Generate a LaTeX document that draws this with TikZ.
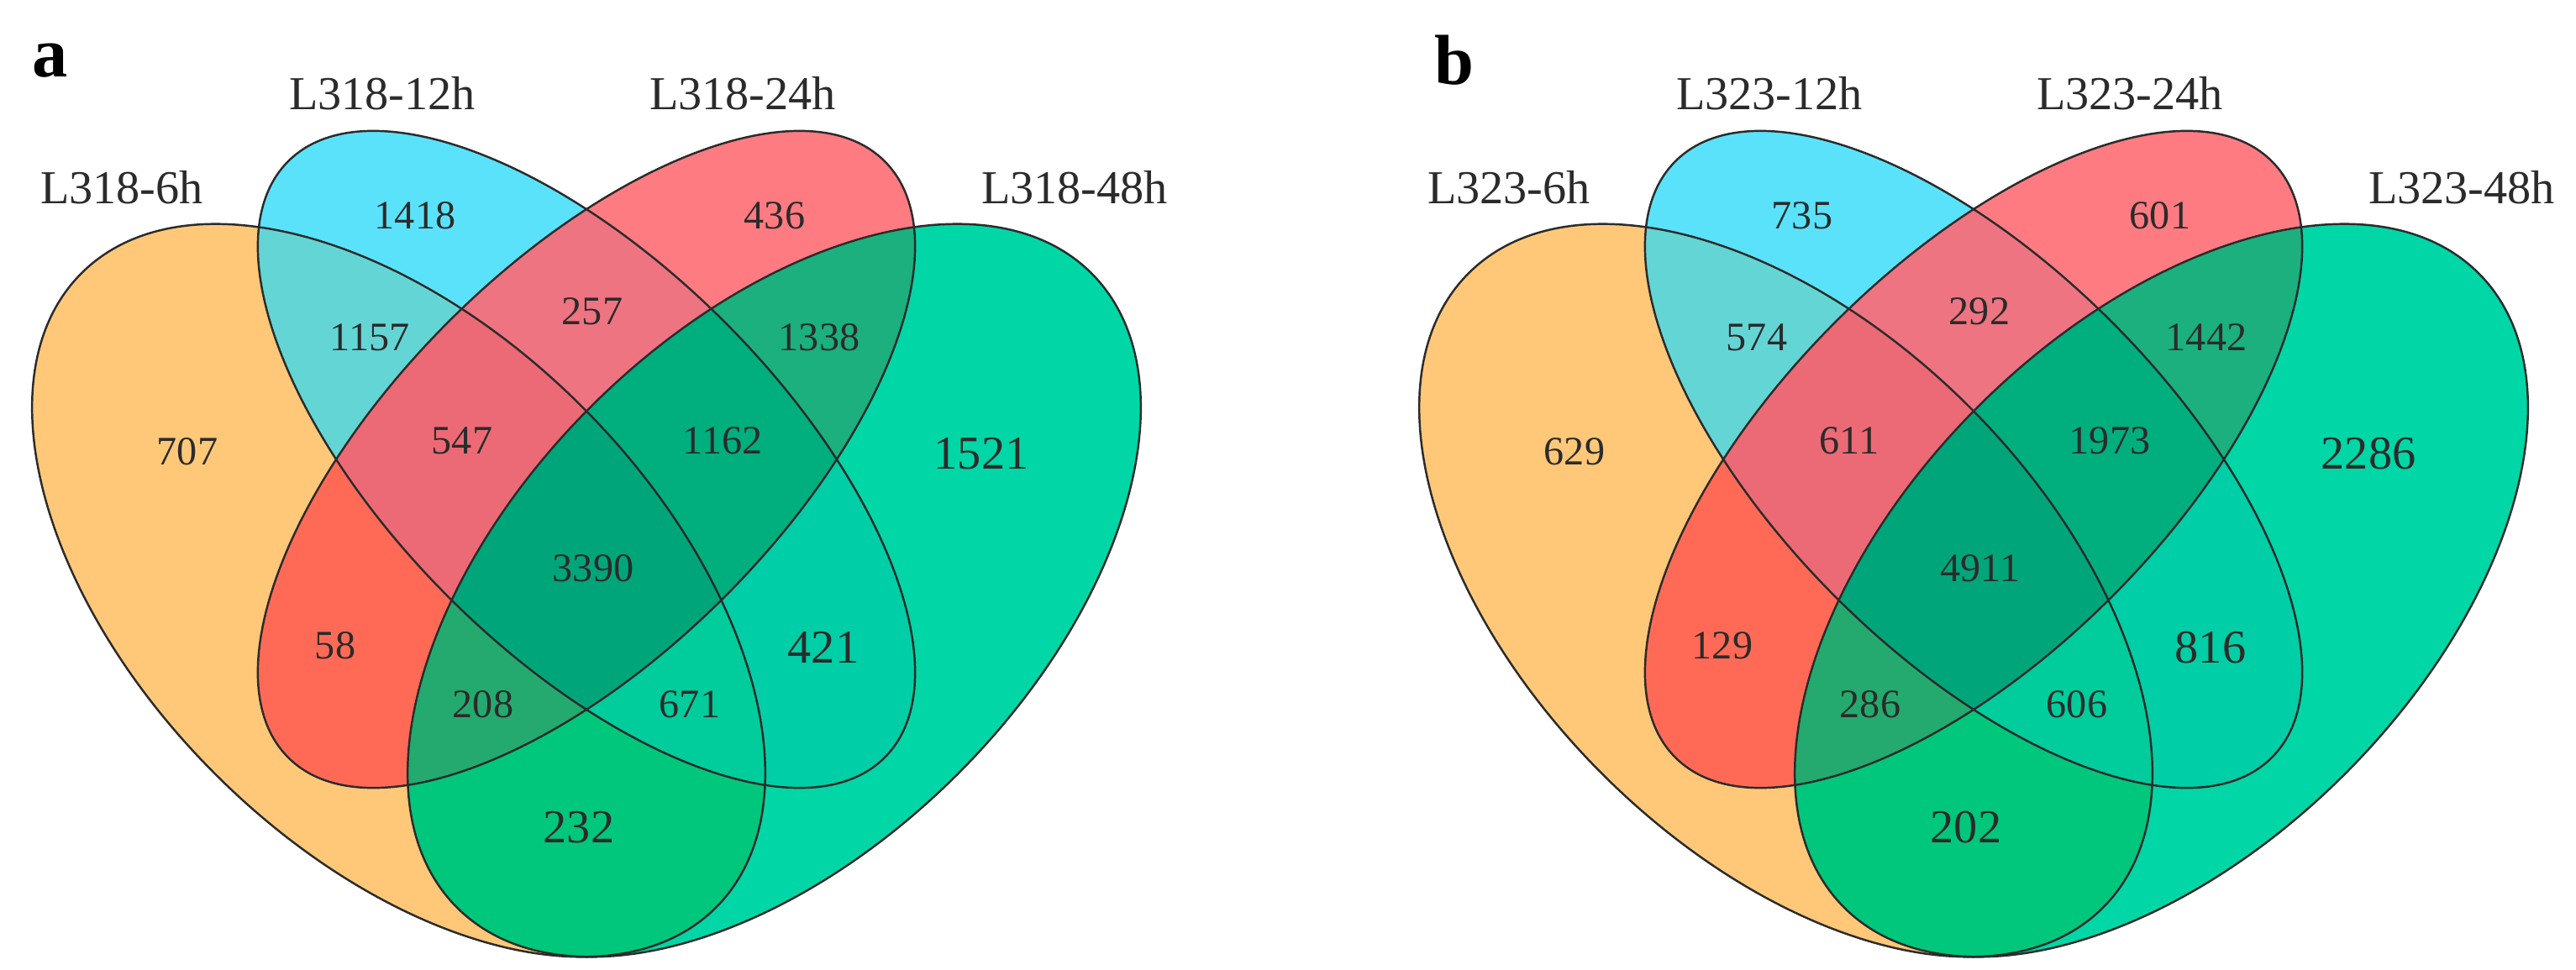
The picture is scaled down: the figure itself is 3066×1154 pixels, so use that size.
\documentclass[tikz,border=0pt]{standalone}
\usepackage{fontspec}
\setmainfont{Liberation Serif}
\definecolor{cO}{HTML}{FEC878}
\definecolor{cB}{HTML}{5AE2FB}
\definecolor{cR}{HTML}{FF7B82}
\definecolor{cG}{HTML}{00D6A6}
\definecolor{cOB}{HTML}{64D5D5}
\definecolor{cOR}{HTML}{FF6A57}
\definecolor{cOG}{HTML}{00C77B}
\definecolor{cBR}{HTML}{EE7482}
\definecolor{cBG}{HTML}{00CEA6}
\definecolor{cRG}{HTML}{1BB07E}
\definecolor{cOBR}{HTML}{EC6A75}
\definecolor{cOBG}{HTML}{00CC9C}
\definecolor{cORG}{HTML}{24AA6E}
\definecolor{cBRG}{HTML}{00AE7E}
\definecolor{cOBRG}{HTML}{00A67A}
\definecolor{lc}{HTML}{2B2B2B}
\definecolor{tc}{HTML}{2B2B2B}
\newcommand\vO[1]{\path[#1, rotate around={-45:(474.5,703)}] (474.5,703) ellipse [x radius=534, y radius=309];}
\newcommand\vB[1]{\path[#1, rotate around={-45:(698,547)}] (698,547) ellipse [x radius=502, y radius=232];}
\newcommand\vR[1]{\path[#1, rotate around={45:(698,547)}] (698,547) ellipse [x radius=502, y radius=232];}
\newcommand\vG[1]{\path[#1, rotate around={45:(921.5,703)}] (921.5,703) ellipse [x radius=534, y radius=309];}
\newcommand\vennfill{%
  \vO{fill=cO}\vB{fill=cB}\vR{fill=cR}\vG{fill=cG}
  \begin{scope}\vO{clip}\vB{fill=cOB}\end{scope}
  \begin{scope}\vO{clip}\vR{fill=cOR}\end{scope}
  \begin{scope}\vO{clip}\vG{fill=cOG}\end{scope}
  \begin{scope}\vB{clip}\vR{fill=cBR}\end{scope}
  \begin{scope}\vB{clip}\vG{fill=cBG}\end{scope}
  \begin{scope}\vR{clip}\vG{fill=cRG}\end{scope}
  \begin{scope}\vO{clip}\vB{clip}\vR{fill=cOBR}\end{scope}
  \begin{scope}\vO{clip}\vB{clip}\vG{fill=cOBG}\end{scope}
  \begin{scope}\vO{clip}\vR{clip}\vG{fill=cORG}\end{scope}
  \begin{scope}\vB{clip}\vR{clip}\vG{fill=cBRG}\end{scope}
  \begin{scope}\vO{clip}\vB{clip}\vR{clip}\vG{fill=cOBRG}\end{scope}
  \vO{draw=lc,line width=0.7pt}\vB{draw=lc,line width=0.7pt}
  \vR{draw=lc,line width=0.7pt}\vG{draw=lc,line width=0.7pt}}
\begin{document}
\begin{tikzpicture}[x=0.01cm,y=-0.01cm,
  num/.style={inner sep=0pt,text=tc,font=\fontsize{13.7}{15}\selectfont},
  bignum/.style={inner sep=0pt,text=tc,font=\fontsize{16}{18}\selectfont},
  lab/.style={inner sep=0pt,text=tc,font=\fontsize{16}{18}\selectfont},
  panel/.style={inner sep=0pt,text=black,font=\fontsize{24}{26}\selectfont\bfseries}]
\useasboundingbox (0,0) rectangle (3066,1154);
\fill[white] (0,0) rectangle (3066,1154);
% panel a
\begin{scope}
\vennfill
\end{scope}
\node[panel] (pa) at (60,72) {a};
\node[lab] (aL6) at (145,223) {L318-6h};
\node[lab] (aL12) at (455,111) {L318-12h};
\node[lab] (aL24) at (884,111) {L318-24h};
\node[lab] (aL48) at (1279,223) {L318-48h};
\node[num] (a1418) at (494,257) {1418};
\node[num] (a436) at (922,257) {436};
\node[num] (a1157) at (440,402) {1157};
\node[num] (a257) at (705,371) {257};
\node[num] (a1338) at (975,402) {1338};
\node[num] (a707) at (223,538) {707};
\node[num] (a547) at (550,525) {547};
\node[num] (a1162) at (860,525) {1162};
\node[bignum] (a1521) at (1168,540) {1521};
\node[num] (a3390) at (706,677) {3390};
\node[num] (a58) at (399,769) {58};
\node[bignum] (a421) at (980,771) {421};
\node[num] (a208) at (575,839) {208};
\node[num] (a671) at (821,839) {671};
\node[bignum] (a232) at (689,985) {232};
% panel b
\begin{scope}[shift={(1651,0)}]
\vennfill
\end{scope}
\node[panel] (pb) at (1731,72) {b};
\node[lab] (bL6) at (1796,223) {L323-6h};
\node[lab] (bL12) at (2106,111) {L323-12h};
\node[lab] (bL24) at (2535,111) {L323-24h};
\node[lab] (bL48) at (2930,223) {L323-48h};
\node[num] (b735) at (2145,257) {735};
\node[num] (b601) at (2571,257) {601};
\node[num] (b574) at (2091,402) {574};
\node[num] (b292) at (2356,371) {292};
\node[num] (b1442) at (2626,402) {1442};
\node[num] (b629) at (1874,538) {629};
\node[num] (b611) at (2201,525) {611};
\node[num] (b1973) at (2511,525) {1973};
\node[bignum] (b2286) at (2819,540) {2286};
\node[num] (b4911) at (2357,677) {4911};
\node[num] (b129) at (2050,769) {129};
\node[bignum] (b816) at (2631,771) {816};
\node[num] (b286) at (2226,839) {286};
\node[num] (b606) at (2472,839) {606};
\node[bignum] (b202) at (2340,985) {202};
\end{tikzpicture}
\end{document}
